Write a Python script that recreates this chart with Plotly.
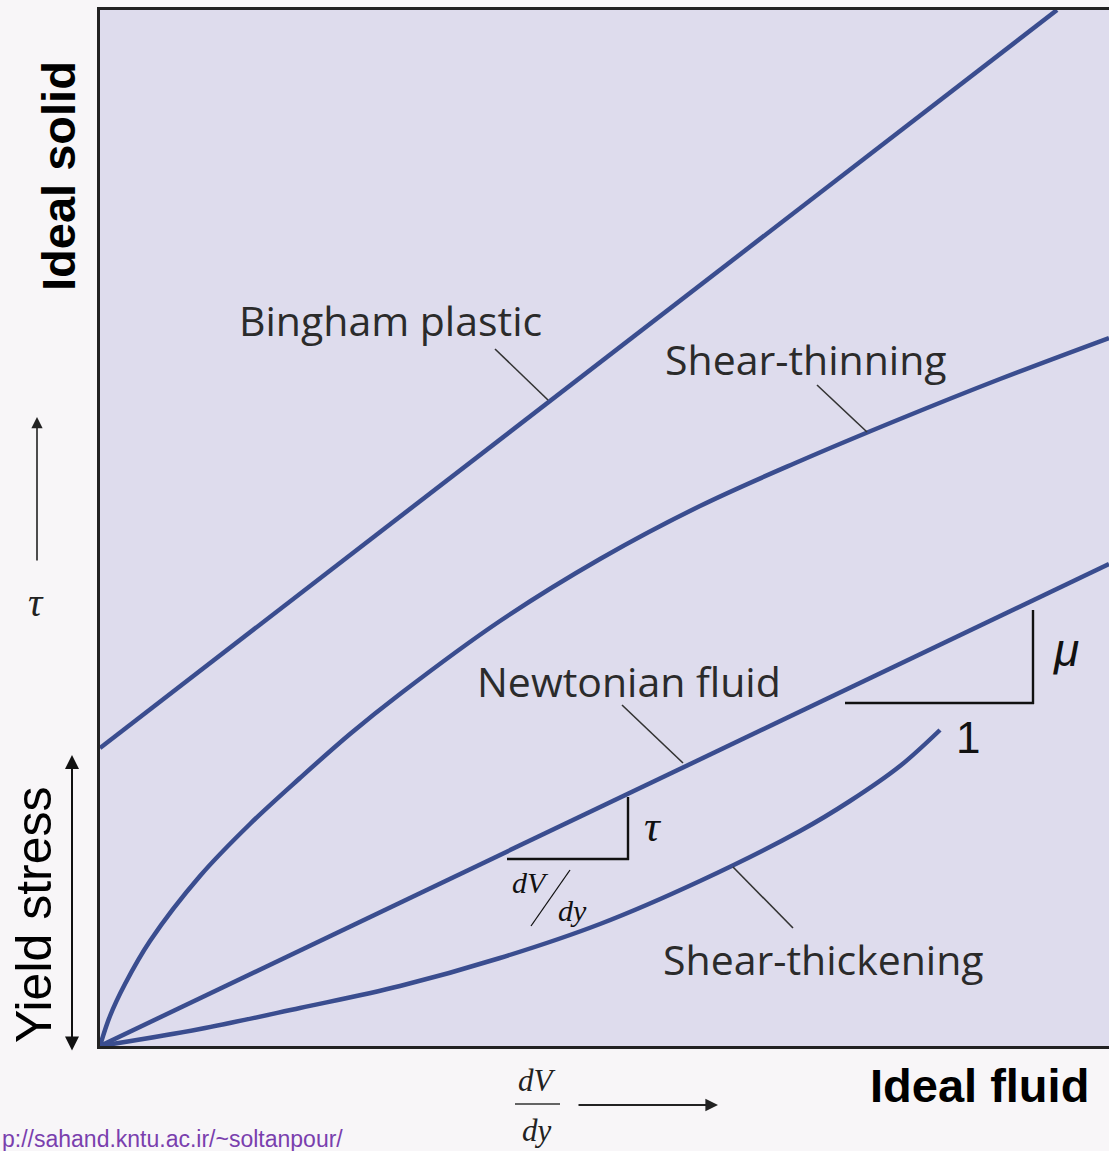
import plotly.graph_objects as go

# ---- data (x = dV/dy, y = tau), arbitrary units ----
bingham_x = [0.0, 9.57]
bingham_y = [2.98, 10.36]

thinning_x = [0.0, 0.1, 0.25, 0.5, 1.0, 1.5, 2.0, 2.5, 3.0, 4.0, 5.0, 6.0, 7.0, 8.0, 9.0, 10.09]
thinning_y = [0.0, 0.30, 0.62, 1.05, 1.70, 2.22, 2.68, 3.12, 3.52, 4.25, 4.87, 5.40, 5.85, 6.27, 6.67, 7.08]

newton_x = [0.0, 10.09]
newton_y = [0.0, 4.82]

thickening_x = [0.0, 1.0, 2.0, 3.0, 4.0, 5.0, 6.0, 7.0, 7.5, 8.0, 8.4]
thickening_y = [0.0, 0.17, 0.38, 0.60, 0.88, 1.22, 1.65, 2.15, 2.45, 2.80, 3.16]

curve_labels = ["Bingham plastic", "Shear-thinning", "Newtonian fluid", "Shear-thickening"]

# ---- geometry helpers (pixel -> data / paper) ----
X0, Y0, PW, PH = 100, 1046, 1009, 1036
def dx(px): return (px - X0) / 100.0
def dy(py): return (Y0 - py) / 100.0
def pxp(px): return (px - X0) / PW
def pyp(py): return (Y0 - py) / PH

LINE = "#3a4d8f"
TXT = "#2b2b2b"

fig = go.Figure()
for xs, ys, nm in [(bingham_x, bingham_y, curve_labels[0]),
                   (thinning_x, thinning_y, curve_labels[1]),
                   (newton_x, newton_y, curve_labels[2]),
                   (thickening_x, thickening_y, curve_labels[3])]:
    fig.add_trace(go.Scatter(x=xs, y=ys, mode="lines", name=nm,
                             line=dict(color=LINE, width=4.5, shape="spline", smoothing=1.0),
                             hoverinfo="skip"))

shapes = []
def seg(p1, p2, w=1.6, color="#222222", ref="data"):
    if ref == "data":
        shapes.append(dict(type="line", xref="x", yref="y",
                           x0=dx(p1[0]), y0=dy(p1[1]), x1=dx(p2[0]), y1=dy(p2[1]),
                           line=dict(color=color, width=w)))
    else:
        shapes.append(dict(type="line", xref="paper", yref="paper",
                           x0=pxp(p1[0]), y0=pyp(p1[1]), x1=pxp(p2[0]), y1=pyp(p2[1]),
                           line=dict(color=color, width=w)))

# leader lines
seg((495, 349), (548, 400), 1.6, "#333333")
seg((817, 385), (867, 432), 1.6, "#333333")
seg((622, 705), (683, 763), 1.6, "#333333")
seg((733, 867), (793, 928), 1.6, "#333333")
# slope triangles
seg((507, 859), (629, 859), 2.4, "#111111")
seg((628, 860), (628, 797), 2.4, "#111111")
seg((845, 703), (1034, 703), 2.4, "#111111")
seg((1033, 704), (1033, 610), 2.4, "#111111")
# slash in dV/dy
seg((531, 926), (570, 870), 1.3, "#111111")
# bottom fraction bar
seg((515, 1104), (560, 1104), 1.6, "#333333", ref="paper")

annotations = []
def txt(s, px, py, size, family, color=TXT, ref="data", angle=0, xanchor="center", yanchor="middle"):
    if ref == "data":
        annotations.append(dict(text=s, x=dx(px), y=dy(py), xref="x", yref="y",
                                showarrow=False, textangle=angle, xanchor=xanchor, yanchor=yanchor,
                                font=dict(size=size, family=family, color=color)))
    else:
        annotations.append(dict(text=s, x=pxp(px), y=pyp(py), xref="paper", yref="paper",
                                showarrow=False, textangle=angle, xanchor=xanchor, yanchor=yanchor,
                                font=dict(size=size, family=family, color=color)))

SANS = "'Open Sans', Lato, sans-serif"
ARIAL = "'Liberation Sans', Arial, sans-serif"
SERIF = "'Liberation Serif', 'Times New Roman', serif"

txt(curve_labels[0], 390, 320, 41, SANS)
txt(curve_labels[1], 806, 359, 41, SANS)
txt(curve_labels[2], 629, 681, 41, SANS)
txt(curve_labels[3], 823, 959, 41, SANS)

txt("<i>τ</i>", 653, 826, 44, SERIF, "#111111")
txt("<i>dV</i>", 530, 882, 30, SERIF, "#111111")
txt("<i>dy</i>", 572, 910, 30, SERIF, "#111111")
txt("<i>μ</i>", 1066, 650, 46, ARIAL, "#111111")
txt("1", 968, 737, 44, ARIAL, "#111111")

# outside the plot
txt("<b>Ideal solid</b>", 58, 176, 47, ARIAL, "#000000", ref="paper", angle=-90)
txt("<b>Ideal fluid</b>", 979, 1085, 47, ARIAL, "#000000", ref="paper")
txt("Yield stress", 34, 915, 50, ARIAL, "#000000", ref="paper", angle=-90)
txt("<i>τ</i>", 36, 602, 40, SERIF, "#222222", ref="paper")
txt("<i>dV</i>", 537, 1080, 31, SERIF, "#222222", ref="paper")
txt("<i>dy</i>", 537, 1130, 31, SERIF, "#222222", ref="paper")
txt("p://sahand.kntu.ac.ir/~soltanpour/", 0, 1139, 23, ARIAL, "#7a3fae", ref="paper", xanchor="left")

# arrows
def arrow(head, tail, both=False, width=2, size=1.3, color="#111111"):
    a = dict(x=pxp(head[0]), y=pyp(head[1]), xref="paper", yref="paper",
             ax=tail[0] - head[0], ay=tail[1] - head[1], axref="pixel", ayref="pixel",
             text="", showarrow=True, arrowhead=2, arrowsize=size, arrowwidth=width,
             arrowcolor=color)
    if both:
        a["arrowside"] = "end+start"
    annotations.append(a)

arrow((72, 755), (72, 1052), both=True, width=2, size=1.4)
arrow((37, 417), (37, 562), width=1.6, size=1.4, color="#222222")
arrow((718, 1105), (577, 1105), width=1.8, size=1.4, color="#222222")

fig.update_layout(
    width=1109, height=1151,
    margin=dict(l=100, r=0, t=10, b=105),
    paper_bgcolor="#f8f6f8",
    plot_bgcolor="#dedced",
    showlegend=False,
    shapes=shapes,
    annotations=annotations,
    xaxis=dict(range=[0, 10.09], showgrid=False, zeroline=False, showticklabels=False, ticks="",
               showline=True, linecolor="#222222", linewidth=2.5, mirror=True, fixedrange=True),
    yaxis=dict(range=[0, 10.36], showgrid=False, zeroline=False, showticklabels=False, ticks="",
               showline=True, linecolor="#222222", linewidth=2.5, fixedrange=True),
)

fig.write_html("out.html", config={"displayModeBar": False},
               post_script="document.body.style.margin='0';document.body.style.overflow='hidden';")
